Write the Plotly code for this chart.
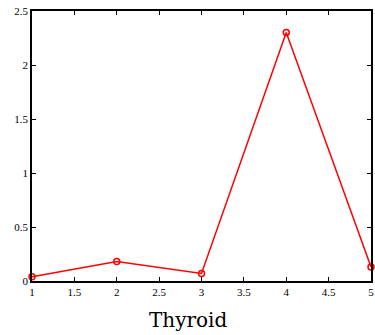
import plotly.graph_objects as go

x_vals = [1, 2, 3, 4, 5]
y_vals = [0.04, 0.18, 0.07, 2.30, 0.13]
x_ticks = [1, 1.5, 2, 2.5, 3, 3.5, 4, 4.5, 5]
x_tick_text = ["1", "1.5", "2", "2.5", "3", "3.5", "4", "4.5", "5"]
y_ticks = [0, 0.5, 1, 1.5, 2, 2.5]
y_tick_text = ["0", "0.5", "1", "1.5", "2", "2.5"]
title_text = "Thyroid"

fig = go.Figure()
fig.add_trace(go.Scatter(
    x=x_vals, y=y_vals, mode="lines+markers",
    line=dict(color="#ff0000", width=1.5),
    marker=dict(symbol="circle-open", size=6, color="#ff0000", line=dict(width=1.5)),
    cliponaxis=False,
))
font = dict(family="Liberation Serif, Times New Roman, serif", size=11, color="black")
fig.update_layout(
    width=375, height=335,
    margin=dict(l=32, r=1, t=11, b=54),
    paper_bgcolor="white", plot_bgcolor="white",
    showlegend=False,
    font=font,
    xaxis=dict(range=[1, 5], tickvals=x_ticks, ticktext=x_tick_text,
               ticks="inside", ticklen=4, tickcolor="black", tickwidth=1,
               showline=True, linecolor="black", linewidth=2, mirror="ticks",
               showgrid=False, zeroline=False, tickfont=font,
               ticklabeloverflow="allow"),
    yaxis=dict(range=[0, 2.5], tickvals=y_ticks, ticktext=y_tick_text,
               ticks="inside", ticklen=4, tickcolor="black", tickwidth=1,
               showline=True, linecolor="black", linewidth=1.5, mirror="ticks",
               showgrid=False, zeroline=False, tickfont=font,
               ticklabeloverflow="allow"),
    annotations=[dict(text=title_text, x=0.462, y=-0.144, xref="paper", yref="paper",
                      xanchor="center", yanchor="middle", showarrow=False,
                      font=dict(family="DejaVu Serif, serif", size=20, color="black"))],
)
fig.write_html("out.html")
